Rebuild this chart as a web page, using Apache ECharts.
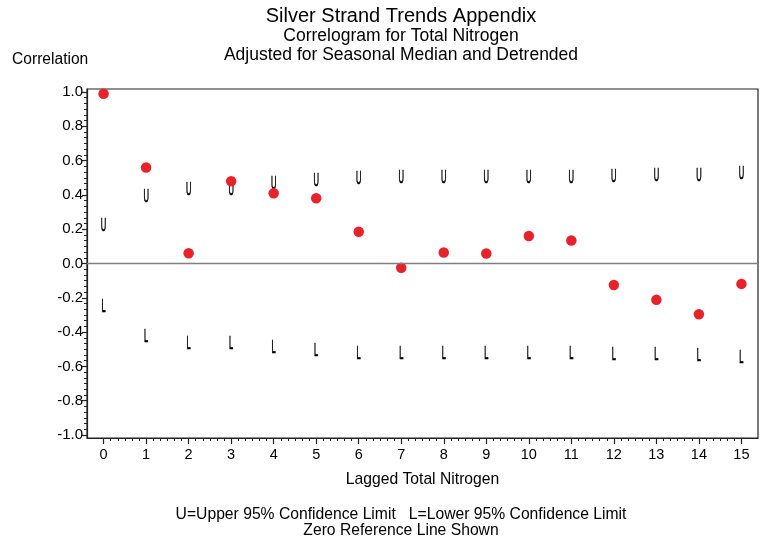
<!DOCTYPE html>
<html>
<head>
<meta charset="utf-8">
<script src="https://cdn.jsdelivr.net/npm/echarts@6/dist/echarts.min.js"></script>
<style>html,body{margin:0;padding:0;background:#fff}#c{width:769px;height:543px}</style>
</head>
<body>
<div id="c"></div>
<script>
const lags = [0, 1, 2, 3, 4, 5, 6, 7, 8, 9, 10, 11, 12, 13, 14, 15];
const correlation = [0.99, 0.56, 0.06, 0.48, 0.41, 0.38, 0.185, -0.025, 0.064, 0.058, 0.16, 0.134, -0.125, -0.212, -0.296, -0.119];
const upperLimit = [0.22, 0.39, 0.43, 0.43, 0.466, 0.48, 0.495, 0.5, 0.5, 0.5, 0.5, 0.5, 0.505, 0.51, 0.51, 0.52];
const lowerLimit = [-0.255, -0.43, -0.468, -0.468, -0.49, -0.51, -0.53, -0.53, -0.53, -0.53, -0.53, -0.53, -0.535, -0.535, -0.54, -0.55];
const yTickLabels = [-1.0, -0.8, -0.6, -0.4, -0.2, 0.0, 0.2, 0.4, 0.6, 0.8, 1.0];
const xTickLabels = lags;

const FONT = 'Liberation Sans, Arial, sans-serif';

// minor tick positions (styling only)
const yMinor = [];
for (let i = 0; i < yTickLabels.length - 1; i++) {
  for (let k = 1; k < 6; k++) yMinor.push(+(yTickLabels[i] + k * 0.2 / 6).toFixed(4));
}
const xMinor = [];
for (let i = 0; i < xTickLabels.length - 1; i++) {
  for (let k = 1; k < 6; k++) xMinor.push(+(xTickLabels[i] + k / 6).toFixed(4));
}

function glyphSeries(name, values, glyph) {
  return {
    name: name,
    type: 'custom',
    xAxisIndex: 0, yAxisIndex: 0,
    data: lags.map((l, i) => [l, values[i]]),
    renderItem: function (params, api) {
      const p = api.coord([api.value(0), api.value(1)]);
      return {
        type: 'text', x: p[0], y: p[1], scaleX: 0.42,
        style: { text: glyph, fontSize: 18, fontFamily: FONT, fill: '#000', stroke: '#000', lineWidth: 0.7,
          align: 'center', verticalAlign: 'middle' }
      };
    },
    z: 3
  };
}

const chart = echarts.init(document.getElementById('c'), null, { renderer: 'canvas' });
const axisMin = -1.0175, axisMax = 1.0175, xMin = -0.39, xMax = 15.39;
chart.setOption({
  animation: false,
  backgroundColor: '#fff',
  grid: { left: 87, right: 11, top: 89, bottom: 105, show: true, borderColor: '#222', borderWidth: 1.2, containLabel: false },
  xAxis: [{
    type: 'value', min: xMin, max: xMax, position: 'bottom',
    axisLine: { show: true, onZero: false, lineStyle: { color: '#222', width: 1.2 } },
    axisTick: { show: true, customValues: xTickLabels, length: 6, inside: false, lineStyle: { color: '#222', width: 1.2 } },
    axisLabel: { show: true, customValues: xTickLabels, margin: 9, fontSize: 14.5, fontFamily: FONT, color: '#000' },
    splitLine: { show: false },
    name: 'Lagged Total Nitrogen', nameLocation: 'middle', nameGap: 34,
    nameTextStyle: { fontSize: 15.7, fontFamily: FONT, color: '#000' }
  }, {
    type: 'value', min: xMin, max: xMax, position: 'bottom',
    axisLine: { show: false, onZero: false },
    axisTick: { show: true, customValues: xMinor, length: 3, lineStyle: { color: '#222', width: 1 } },
    axisLabel: { show: false }, splitLine: { show: false }
  }],
  yAxis: [{
    type: 'value', min: axisMin, max: axisMax, position: 'left',
    axisLine: { show: true, onZero: false, lineStyle: { color: '#222', width: 1.2 } },
    axisTick: { show: true, customValues: yTickLabels, length: 5, lineStyle: { color: '#222', width: 1.2 } },
    axisLabel: { show: true, customValues: yTickLabels, margin: 4, fontSize: 15, fontFamily: FONT, color: '#000',
      formatter: v => v.toFixed(1) },
    splitLine: { show: false }
  }, {
    type: 'value', min: axisMin, max: axisMax, position: 'left',
    axisLine: { show: false, onZero: false },
    axisTick: { show: true, customValues: yMinor, length: 3, lineStyle: { color: '#222', width: 1 } },
    axisLabel: { show: false }, splitLine: { show: false }
  }],
  graphic: [
    { type: 'text', x: 401, y: 16, style: { text: 'Silver Strand Trends Appendix', fontSize: 20, fontFamily: FONT, fill: '#000', align: 'center', verticalAlign: 'middle' } },
    { type: 'text', x: 401, y: 36, style: { text: 'Correlogram for Total Nitrogen', fontSize: 17.5, fontFamily: FONT, fill: '#000', align: 'center', verticalAlign: 'middle' } },
    { type: 'text', x: 401, y: 55.5, style: { text: 'Adjusted for Seasonal Median and Detrended', fontSize: 17.5, fontFamily: FONT, fill: '#000', align: 'center', verticalAlign: 'middle' } },
    { type: 'text', x: 12, y: 59.5, style: { text: 'Correlation', fontSize: 15.6, fontFamily: FONT, fill: '#000', align: 'left', verticalAlign: 'middle' } },
    { type: 'text', x: 401, y: 514.5, style: { text: 'U=Upper 95% Confidence Limit   L=Lower 95% Confidence Limit', fontSize: 15.7, fontFamily: FONT, fill: '#000', align: 'center', verticalAlign: 'middle' } },
    { type: 'text', x: 401, y: 530.5, style: { text: 'Zero Reference Line Shown', fontSize: 15.7, fontFamily: FONT, fill: '#000', align: 'center', verticalAlign: 'middle' } }
  ],
  series: [
    {
      name: 'Zero', type: 'line', data: [], xAxisIndex: 0, yAxisIndex: 0,
      markLine: { silent: true, symbol: 'none', label: { show: false },
        lineStyle: { color: '#808080', width: 1.4, type: 'solid' },
        data: [{ yAxis: 0 }] }
    },
    {
      name: 'Correlation', type: 'scatter', xAxisIndex: 0, yAxisIndex: 0,
      data: lags.map((l, i) => [l, correlation[i]]),
      symbol: 'circle', symbolSize: 10.5,
      itemStyle: { color: '#e8222a', opacity: 1 }, z: 4
    },
    glyphSeries('Upper', upperLimit, 'U'),
    glyphSeries('Lower', lowerLimit, 'L')
  ]
});
</script>
</body>
</html>
